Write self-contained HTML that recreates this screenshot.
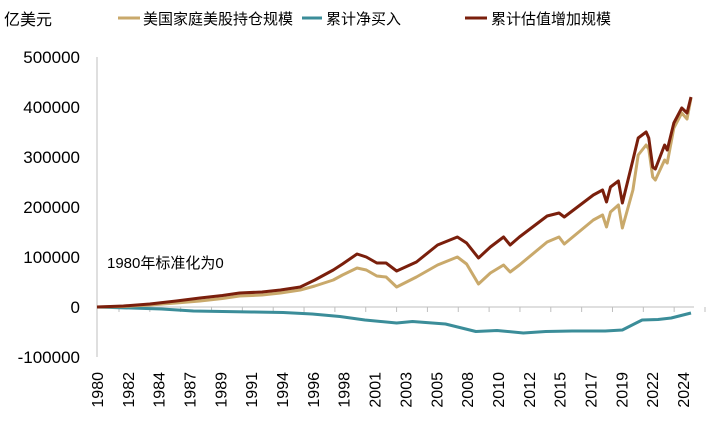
<!DOCTYPE html>
<html><head><meta charset="utf-8"><style>
body{margin:0;background:#fff;}
svg text{font-family:"Liberation Sans","Noto Sans CJK SC",sans-serif;fill:#000;}
</style></head><body>
<svg width="714" height="426" viewBox="0 0 714 426" id="chart">
<text x="4" y="25" font-size="16">亿美元</text>
<g>
<line x1="118" y1="18" x2="140" y2="18" stroke="#c9a96b" stroke-width="3"/>
<text x="143" y="24" font-size="15">美国家庭美股持仓规模</text>
<line x1="302" y1="18" x2="322" y2="18" stroke="#3b8d99" stroke-width="3"/>
<text x="326" y="24" font-size="15">累计净买入</text>
<line x1="465" y1="18" x2="487" y2="18" stroke="#7a1f0c" stroke-width="3"/>
<text x="491" y="24" font-size="15">累计估值增加规模</text>
</g>
<text x="107" y="268" font-size="15">1980年标准化为0</text>
<g id="axes"></g>
<g id="series"></g>
</svg>
<script>
const yTicks=[500000,400000,300000,200000,100000,0,-100000];
const xLabels=["1980","1982","1984","1987","1989","1991","1994","1996","1998","2001","2003","2005","2008","2010","2012","2015","2017","2019","2022","2024"];
const goldYears=[1980,1982,1984,1986,1987.8,1989.5,1990.8,1992.5,1993.9,1995.4,1996.5,1997.9,1998.6,1999.7,2000.4,2001.2,2001.9,2002.7,2004.2,2005.8,2007.3,2008,2008.9,2009.8,2010.8,2011.3,2012,2014.1,2015,2015.4,2017.6,2018.3,2018.6,2018.9,2019.5,2019.8,2020.6,2021,2021.6,2021.8,2022.1,2022.3,2023,2023.2,2023.7,2024.3,2024.7,2025];
const goldValues=[0,1000,4000,8000,12000,17000,22000,24000,28000,34000,42000,54000,64000,78000,74000,62000,60000,40000,60000,84000,100000,86000,46000,68000,84000,70000,84000,130000,140000,126000,174000,184000,160000,190000,204000,158000,234000,304000,324000,316000,260000,254000,294000,288000,358000,388000,376000,418000];
const brownValues=[0,2000,6000,12000,18000,23000,28000,30000,34000,40000,54000,74000,86000,106000,100000,88000,88000,72000,90000,124000,140000,128000,98000,120000,140000,124000,140000,182000,188000,180000,224000,234000,210000,240000,252000,208000,294000,338000,350000,338000,280000,276000,324000,314000,368000,398000,388000,420000];
const tealYears=[1980,1984.9,1987.3,1991.7,1994.1,1996.3,1998.4,2000.3,2002.7,2003.9,2006.4,2008.7,2010.3,2012.3,2014,2016,2018.5,2019.8,2021.3,2022.5,2023.5,2025];
const tealValues=[0,-4000,-8000,-10000,-11000,-14000,-19000,-26000,-32000,-29000,-34000,-49000,-47000,-52000,-49000,-48000,-48000,-46000,-26000,-25000,-22000,-12000];

const NS="http://www.w3.org/2000/svg";
const yS=v=>307-v*50/100000;
const xS=y=>97+(y-1980)*13.2;
const axes=document.getElementById('axes'),ser=document.getElementById('series');
function mk(tag,attrs,parent){const e=document.createElementNS(NS,tag);for(const k in attrs)e.setAttribute(k,attrs[k]);parent.appendChild(e);return e;}
yTicks.forEach(v=>{
  const t=mk('text',{x:80,y:yS(v)+6,'font-size':17,'text-anchor':'end'},axes);
  t.textContent=v;
  
  
});
const ya=mk('line',{x1:97,y1:yS(500000),x2:97,y2:yS(-100000),stroke:'#bfbfbf'},axes);


const xa=mk('line',{x1:97,y1:307,x2:694,y2:307,stroke:'#bfbfbf'},axes);


const step=(683-97)/(xLabels.length-1);
xLabels.forEach((l,i)=>{
  const x=97+i*step;
  const tk=mk('line',{x1:x+22,y1:307,x2:x+22,y2:312,stroke:'#bfbfbf'},axes);
  
  
  const t=mk('text',{x:0,y:0,'font-size':16,'text-anchor':'end',transform:`translate(${x+6},372) rotate(-90)`},axes);
  t.textContent=l;
  
  
});
function line(xs,vs,color,name){
  const p=mk('polyline',{points:xs.map((y,i)=>xS(y)+','+yS(vs[i])).join(' '),fill:'none',stroke:color,'stroke-width':3,'stroke-linejoin':'round'},ser);
  
  
}
line(tealYears,tealValues,'#3b8d99','net-buy-line');
line(goldYears,goldValues,'#c9a96b','holdings-line');
line(goldYears,brownValues,'#7a1f0c','valuation-line');
</script>
</body></html>
